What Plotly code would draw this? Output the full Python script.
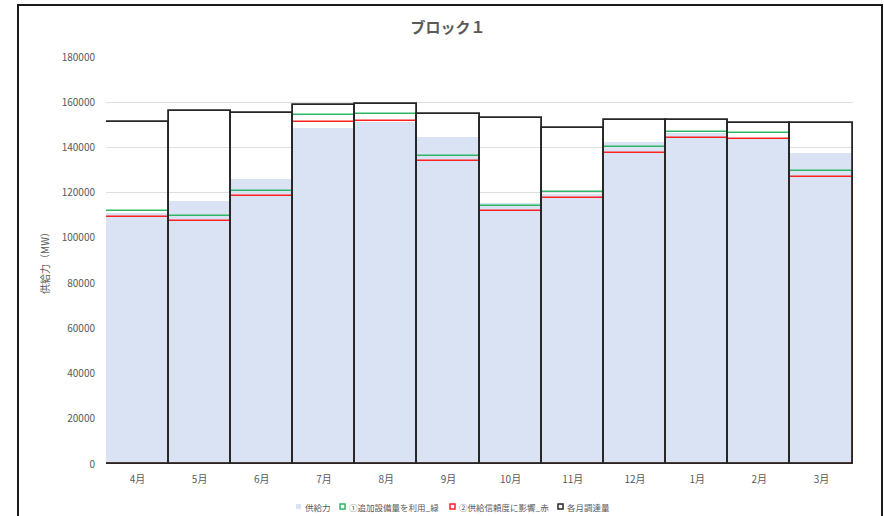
import plotly.graph_objects as go

months = ["4月", "5月", "6月", "7月", "8月", "9月", "10月", "11月", "12月", "1月", "2月", "3月"]
supply = [111000, 116200, 126000, 148800, 151300, 144700, 115300, 119500, 142600, 146500, 144000, 137500]
green_line = [111900, 109700, 120900, 154300, 154800, 136400, 114100, 120100, 140300, 146900, 146400, 129600]
red_line = [109400, 107500, 118400, 151300, 151700, 133800, 111800, 117500, 137600, 144000, 143600, 126900]
procure = [151400, 156200, 155400, 158700, 159400, 155000, 153200, 148500, 152300, 152000, 150700, 151000]

names = ["供給力", "①追加設備量を利用_緑", "②供給信頼度に影響_赤", "各月調達量"]
FONT = "Noto Sans CJK JP"
GRAY = "#595959"
FILL = "#DAE3F3"
GREEN = "#2EB566"
RED = "#FF2020"
BLACK = "#262626"

fig = go.Figure()
fig.add_trace(go.Bar(x=months, y=supply, name=names[0], width=1,
                     marker=dict(color=FILL, line=dict(width=0))))
fig.add_trace(go.Bar(x=months, y=green_line, name=names[1], width=1,
                     marker=dict(color="rgba(0,0,0,0)", line=dict(color=GREEN, width=1.6))))
fig.add_trace(go.Bar(x=months, y=red_line, name=names[2], width=1,
                     marker=dict(color="rgba(0,0,0,0)", line=dict(color=RED, width=1.6))))
fig.add_trace(go.Bar(x=months, y=procure, name=names[3], width=1,
                     marker=dict(color="rgba(0,0,0,0)", line=dict(color=BLACK, width=1.8))))

# plot area: x 106..853, y 56.7..464
W, H = 884, 516
L, R, T, B = 106, 31, 57, 52
pw = W - L - R
ph = H - T - B


def px(xp):
    return (xp - L) / pw


def py(yp):
    return (H - B - yp) / ph


fig.update_layout(
    width=W, height=H,
    margin=dict(l=L, r=R, t=T, b=B, autoexpand=False),
    paper_bgcolor="white", plot_bgcolor="white",
    barmode="overlay", bargap=0,
    showlegend=False,
    font=dict(family=FONT, color=GRAY, size=10),
    title=dict(text="<b>ブロック１</b>", x=px(448), xref="paper", xanchor="center",
               y=1 - 28 / H, yanchor="middle",
               font=dict(family=FONT, size=15, color=GRAY)),
    xaxis=dict(showgrid=False, ticks="outside", ticklen=6, tickcolor="rgba(0,0,0,0)",
               range=[-0.506, 11.506], automargin=False,
               showline=False,
               tickfont=dict(size=10, color=GRAY)),
    yaxis=dict(range=[0, 180000], dtick=20000, showgrid=True, gridcolor="#DEDEDE", gridwidth=1,
               zeroline=False, ticks="outside", ticklen=8, tickcolor="rgba(0,0,0,0)",
               automargin=False,
               tickfont=dict(size=10, color=GRAY), tickformat="d",
               title=dict(text="供給力（MW）", font=dict(size=10, color=GRAY), standoff=10)),
)

# manual compact legend (Excel style)
leg_y = 506.5
leg_items = [
    (296, 303, FILL, FILL, 0),
    (340, 347, "rgba(0,0,0,0)", GREEN, 1.5),
    (450, 457, "rgba(0,0,0,0)", RED, 1.5),
    (558, 565, "rgba(0,0,0,0)", BLACK, 1.5),
]
for (mx, tx, fc, lc, lw), name in zip(leg_items, names):
    fig.add_shape(type="rect", xref="paper", yref="paper",
                  x0=px(mx), x1=px(mx + 5), y0=py(leg_y + 2.5), y1=py(leg_y - 2.5),
                  fillcolor=fc, line=dict(color=lc, width=lw))
    fig.add_annotation(text=name, xref="paper", yref="paper", x=px(tx), y=py(leg_y),
                       xanchor="left", yanchor="middle", showarrow=False,
                       font=dict(size=8.5, color=GRAY, family=FONT))

# outer chart frame
fig.add_shape(type="rect", xref="paper", yref="paper",
              x0=px(18), x1=px(882), y0=py(530), y1=py(5),
              line=dict(color="#1A1A1A", width=2), fillcolor="rgba(0,0,0,0)", layer="above")

fig.write_html("out.html", config={"displayModeBar": False},
               post_script="document.body.style.margin='0';document.body.style.overflow='hidden';")
